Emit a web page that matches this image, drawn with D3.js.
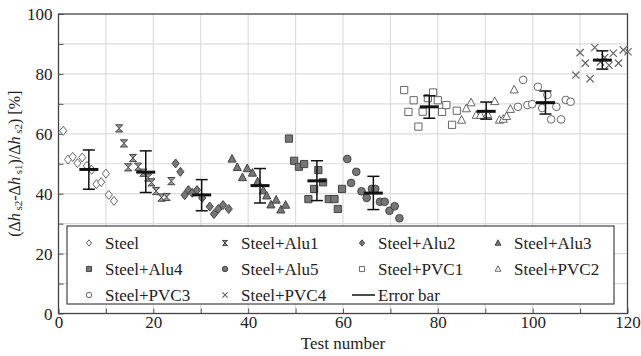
<!DOCTYPE html>
<html><head><meta charset="utf-8">
<script src="https://cdn.jsdelivr.net/npm/d3@7"></script>
<style>body{margin:0;background:#fff}svg{display:block}text{font-family:"Liberation Serif","Times New Roman",serif;}</style>
</head><body><svg id="c" width="641" height="356"></svg>
<script>
const xTicks = [0,20,40,60,80,100,120];
const yTicks = [0,20,40,60,80,100];
const steel = [[1,61],[2,51.4],[3,52.3],[4,50.2],[5,52.1],[6,49.3],[7,48],[8,43.2],[9,43.9],[10,46.7],[10.6,39.6],[11.7,37.6]];
const alu1 = [[12.8,61.8],[13.8,56.8],[14.7,48.8],[15.7,51.9],[16.8,49],[17.9,47],[18.9,45.4],[19.6,43.8],[20.6,40.9],[21.7,38.7],[22.8,38.9],[23.8,44.2]];
const alu2 = [[24.7,50.1],[25.7,47.3],[26.6,39.5],[27.4,41.2],[28.2,40.3],[29.2,41.2],[30.3,38.6],[31.9,35.7],[32.8,33.2],[33.7,34.9],[34.7,36.2],[35.9,34.9]];
const alu3 = [[36.6,51.6],[37.7,48.8],[38.8,45.4],[39.8,48.4],[40.9,46.9],[42,44],[43.2,41],[43.9,39.3],[44.8,36.3],[45.9,37.9],[46.9,34.6],[47.9,36.2]];
const alu4 = [[48.6,58.4],[49.7,51],[50.7,49],[51.8,49.9],[52.7,38.2],[53.9,41.6],[54.8,47.9],[55.8,43.8],[57,38.2],[58.2,38.2],[58.9,34.9],[59.8,41.6]];
const alu5 = [[60.9,51.6],[61.7,43.6],[62.8,47.3],[63.9,40.8],[65,38.6],[66.1,41.6],[66.8,41.6],[67.8,37.3],[68.8,37.3],[69.8,34.3],[70.9,35.8],[71.9,31.8]];
const pvc1 = [[72.9,74.6],[73.8,67.3],[74.9,71.2],[75.9,62.4],[76.8,67.4],[77.9,71.9],[79,73.8],[80,71.2],[80.9,67.3],[81.8,69.6],[83,63],[84,67.7]];
const pvc2 = [[85,64.6],[86,68.4],[87,70.4],[88.1,66.2],[89,66.2],[90.5,66.5],[92,70.8],[93,64.6],[93.8,64.9],[94.5,65.8],[95.3,68.2],[96.1,74.7]];
const pvc3 = [[96.9,69],[98,78],[98.9,69.6],[99.9,69.9],[101.1,75.7],[102,68.6],[103.1,73],[103.9,64.8],[105,69],[106,64.8],[107,71.3],[108,70.7]];
const pvc4 = [[109.1,79.6],[110,87.1],[111.1,83.6],[112.1,78.4],[113.1,88.8],[114.3,84],[115.2,85.5],[116.1,82.9],[117,86.9],[118.1,83.6],[119.1,88],[120.1,87.4]];
// error bars: [x, mean, low, high]
const errorBars = [[6.4,48.1,41.5,54.6],[18.4,47.2,40.4,54.3],[30.2,39.6,34.3,44.7],[42.5,42.7,36.9,48.4],[54.5,44.3,37.7,51],[66.4,40.2,34.7,45.8],[78.2,69,65.2,72.7],[90.2,67.5,64.9,70.6],[102.7,70.4,66.6,74.3],[114.7,84.6,81.6,87.7]];
const seriesNames = ["Steel","Steel+Alu1","Steel+Alu2","Steel+Alu3","Steel+Alu4","Steel+Alu5","Steel+PVC1","Steel+PVC2","Steel+PVC3","Steel+PVC4"];
const seriesData = [steel,alu1,alu2,alu3,alu4,alu5,pvc1,pvc2,pvc3,pvc4];
const seriesShape = ["diamond","hourglass","diamond","triangle","square","circle","square","triangle","circle","cross"];
const seriesFilled = [false,true,true,true,true,true,false,false,false,false];

const svg = d3.select("#c");
const L=58.5,R=627.5,T=14,B=313.5;
const x = d3.scaleLinear().domain([0,120]).range([L,R]);
const y = d3.scaleLinear().domain([0,100]).range([B,T]);

// grid
const g = svg.append("g");
g.selectAll(".gx").data(d3.range(10,120,10)).enter().append("line")
 .attr("x1",d=>x(d)).attr("x2",d=>x(d)).attr("y1",T).attr("y2",B).attr("stroke","#dcdcdc").attr("stroke-width",1.2);
g.selectAll(".gy").data(d3.range(10,100,10)).enter().append("line")
 .attr("y1",d=>y(d)).attr("y2",d=>y(d)).attr("x1",L).attr("x2",R).attr("stroke","#dcdcdc").attr("stroke-width",1.2);

// axes
const xa = svg.append("g").attr("transform",`translate(0,${B})`)
 .call(d3.axisBottom(x).tickValues(d3.range(0,121,10)).tickSize(-5).tickPadding(2).tickFormat(d=>xTicks.includes(d)?d:""));
const ya = svg.append("g").attr("transform",`translate(${L},0)`)
 .call(d3.axisLeft(y).tickValues(d3.range(0,101,10)).tickSize(-5).tickPadding(6).tickFormat(d=>yTicks.includes(d)?d:""));
[xa,ya].forEach(a=>{a.select(".domain").remove();a.selectAll("line").attr("stroke","#555");a.selectAll("text").attr("font-size",17).attr("fill","#222").style("font-family","Liberation Serif");});
ya.selectAll("text").attr("dy","0.35em");
xa.selectAll("text").attr("dy","0.71em");
svg.append("rect").attr("x",L).attr("y",T).attr("width",R-L).attr("height",B-T).attr("fill","none").attr("stroke","#444").attr("stroke-width",1.3);

function shapePath(s,r){
  switch(s){
    case "diamond": return `M0,${-r}L${r*0.8},0L0,${r}L${-r*0.8},0Z`;
    case "square": return `M${-r*0.8},${-r*0.8}H${r*0.8}V${r*0.8}H${-r*0.8}Z`;
    case "triangle": return `M0,${-r}L${r*0.9},${r*0.7}H${-r*0.9}Z`;
    case "circle": return `M${r*0.85},0A${r*0.85},${r*0.85} 0 1,1 ${-r*0.85},0A${r*0.85},${r*0.85} 0 1,1 ${r*0.85},0Z`;
    case "hourglass": return `M${-r*0.8},${-r*0.8}H${r*0.8}L${-r*0.8},${r*0.8}H${r*0.8}Z`;
    case "cross": return `M${-r*0.8},${-r*0.8}L${r*0.8},${r*0.8}M${r*0.8},${-r*0.8}L${-r*0.8},${r*0.8}`;
  }
}
function styleMarker(sel,i){
  const f = seriesFilled[i];
  const s = seriesShape[i];
  sel.attr("fill", s==="cross"?"none":(f?(s==="hourglass"?"#999":"#777"):"#fff"))
     .attr("stroke", f?"#444":"#666").attr("stroke-width", s==="cross"?1.2:1);
}
seriesData.forEach((data,i)=>{
  const sel = svg.append("g").selectAll("path").data(data).enter().append("path")
    .attr("d",shapePath(seriesShape[i],4.5))
    .attr("transform",d=>`translate(${x(d[0])},${y(d[1])})`);
  styleMarker(sel,i);
});

// error bars
const eb = svg.append("g").selectAll("g").data(errorBars).enter().append("g");
eb.append("line").attr("x1",d=>x(d[0])).attr("x2",d=>x(d[0])).attr("y1",d=>y(d[2])).attr("y2",d=>y(d[3])).attr("stroke","#111").attr("stroke-width",1.5);
eb.append("line").attr("x1",d=>x(d[0])-6).attr("x2",d=>x(d[0])+6).attr("y1",d=>y(d[2])).attr("y2",d=>y(d[2])).attr("stroke","#111").attr("stroke-width",1.5);
eb.append("line").attr("x1",d=>x(d[0])-6).attr("x2",d=>x(d[0])+6).attr("y1",d=>y(d[3])).attr("y2",d=>y(d[3])).attr("stroke","#111").attr("stroke-width",1.5);
eb.append("line").attr("x1",d=>x(d[0])-9.5).attr("x2",d=>x(d[0])+9.5).attr("y1",d=>y(d[1])).attr("y2",d=>y(d[1])).attr("stroke","#111").attr("stroke-width",3);

// legend
const lg = svg.append("g");
lg.append("rect").attr("x",67).attr("y",226).attr("width",547).attr("height",78).attr("fill","#fff").attr("stroke","#444").attr("stroke-width",1.2);
const colX = [89,225,362,498];
const rowY = [243,269,295];
const items = seriesNames.concat(["Error bar"]);
items.forEach((name,k)=>{
  const c = k%4, r = Math.floor(k/4);
  const mx = colX[c], my = rowY[r];
  if(k<10){
    const p = lg.append("path").attr("d",shapePath(seriesShape[k],3.2)).attr("transform",`translate(${mx},${my})`);
    styleMarker(p,k);
    lg.append("text").attr("x",mx+16).attr("y",my).attr("dy","0.35em").attr("font-size",17).attr("fill","#222").text(name);
  } else {
    lg.append("line").attr("x1",mx-10).attr("x2",mx+13).attr("y1",my).attr("y2",my).attr("stroke","#111").attr("stroke-width",1.5);
    lg.append("text").attr("x",mx+16).attr("y",my).attr("dy","0.35em").attr("font-size",17).attr("fill","#222").text(name);
  }
});

// axis titles
svg.append("text").attr("x",(L+R)/2).attr("y",349).attr("text-anchor","middle").attr("font-size",17).attr("fill","#222").text("Test number");
const yl = svg.append("text").attr("transform",`translate(20,${(T+B)/2}) rotate(-90)`).attr("text-anchor","middle").attr("font-size",16).attr("fill","#222");
const parts = [["(Δ",0],["h",1],[" s2",2],["-Δ",0],["h",1],[" s1",2],[")/Δ",0],["h",1],[" s2",2],[") [%]",0]];
parts.forEach(([t,k])=>{
  const ts = yl.append("tspan").text(t);
  if(k===1) ts.attr("font-style","italic");
  if(k===2) ts.attr("font-size",11).attr("dy",2);
  if(k===0 && t!=="(Δ") ts.attr("dy",-2);
});
</script></body></html>
